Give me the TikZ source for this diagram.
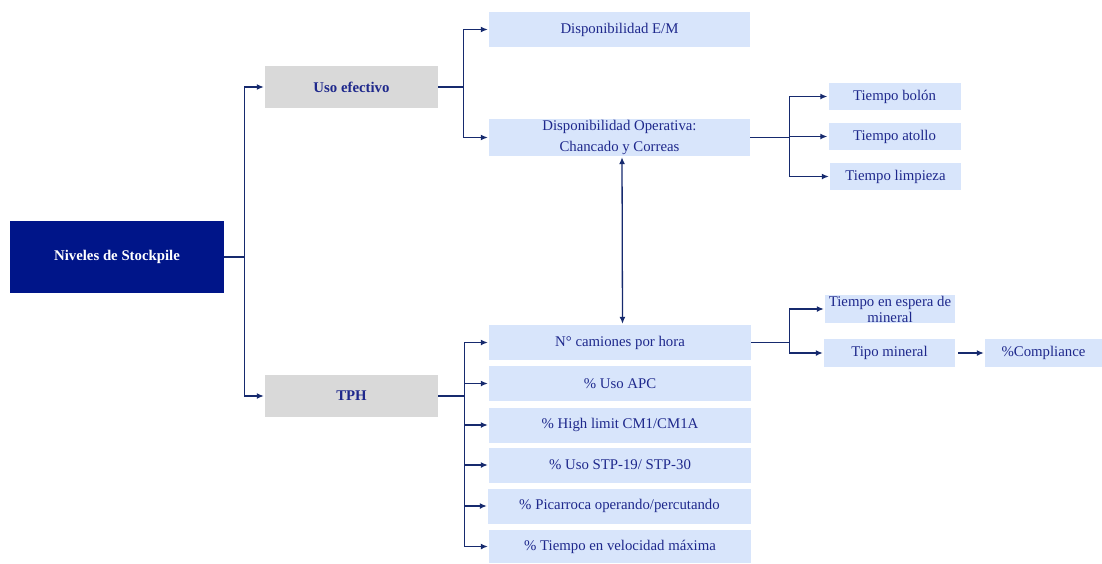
\documentclass[tikz,border=0pt]{standalone}
\usepackage{fontspec}
\setmainfont{Liberation Serif}
\usetikzlibrary{arrows.meta}

\definecolor{navybox}{RGB}{0,21,137}
\definecolor{graybox}{RGB}{217,217,217}
\definecolor{lightbox}{RGB}{216,229,251}
\definecolor{linkcol}{RGB}{22,42,110}
\definecolor{textcol}{RGB}{30,40,140}

\begin{document}
\begin{tikzpicture}[x=1pt,y=1pt,yscale=-1,
    every node/.style={font=\fontsize{14.8}{18}\selectfont, inner sep=0pt, align=center},
    rootbox/.style={fill=navybox, text=white, font=\fontsize{14.8}{18}\selectfont\bfseries, minimum width=214, minimum height=72},
    midbox/.style={fill=graybox, text=textcol, font=\fontsize{14.8}{18}\selectfont\bfseries, minimum width=173, minimum height=42},
    leafbox/.style={fill=lightbox, text=textcol, minimum width=261, minimum height=35},
    smallbox/.style={fill=lightbox, text=textcol, minimum width=132, minimum height=27},
    conn/.style={draw=linkcol, line width=1.3pt, -{Latex[length=7pt,width=6pt]}, shorten >=1pt},
    plain/.style={draw=linkcol, line width=1.3pt}]
    \useasboundingbox (0,0) rectangle (1102,563);

    % Root
    \node[rootbox] (niv) at (117,257) {Niveles de Stockpile};

    % Second level
    \node[midbox] (uso) at (351.5,87) {Uso efectivo};
    \node[midbox] (tph) at (351.5,396) {TPH};

    % Uso efectivo branch
    \node[leafbox] (dem) at (619.5,29.5) {Disponibilidad E/M};
    \node[leafbox, minimum height=37] (dop) at (619.5,137.5) {Disponibilidad Operativa:\\[3pt]Chancado y Correas};
    \node[smallbox] (bol) at (894.5,96.5) {Tiempo bol\'on};
    \node[smallbox] (ato) at (894.5,136.5) {Tiempo atollo};
    \node[smallbox, minimum width=131] (lim) at (895.5,176.5) {Tiempo limpieza};

    % TPH branch
    \node[leafbox, minimum width=262] (cam) at (620,342.5) {N\textdegree\ camiones por hora};
    \node[leafbox, minimum width=262] (apc) at (620,383.5) {\% Uso APC};
    \node[leafbox, minimum width=262] (hig) at (620,425) {\% High limit CM1/CM1A};
    \node[leafbox, minimum width=262] (stp) at (620,465) {\% Uso STP-19/ STP-30};
    \node[leafbox, minimum width=263] (pic) at (619.5,506) {\% Picarroca operando/percutando};
    \node[leafbox, minimum width=262, minimum height=33] (vel) at (620,546.5) {\% Tiempo en velocidad m\'axima};
    \node[smallbox, minimum width=130, minimum height=28, font=\fontsize{14.8}{16}\selectfont] (esp) at (890,309) {Tiempo en espera de\\mineral};
    \node[smallbox, minimum width=131, minimum height=28] (tip) at (889.5,353) {Tipo mineral};
    \node[smallbox, minimum width=117, minimum height=28] (com) at (1043.5,353) {\%Compliance};

    % Connectors
    \foreach \n in {uso,tph}
        \draw[conn] (niv.east) -- +(20,0) |- (\n);
    \foreach \n in {dem,dop}
        \draw[conn] (uso.east) -- +(25,0) |- (\n);
    \foreach \n in {bol,ato,lim}
        \draw[conn] (dop.east) -- +(39,0) |- (\n);
    \foreach \n in {cam,apc,hig,stp,pic,vel}
        \draw[conn] (tph.east) -- +(26,0) |- (\n);
    \foreach \n in {esp,tip}
        \draw[conn] (cam.east) -- +(38,0) |- (\n);
    \draw[conn] ([xshift=3]tip.east) -- (com);
    \draw[conn, {Latex[length=7pt,width=6pt]}-{Latex[length=7pt,width=6pt]}, shorten <=1pt]
        ([xshift=2.5]dop.south) -- ([xshift=2.5]cam.north);

\end{tikzpicture}
\end{document}
